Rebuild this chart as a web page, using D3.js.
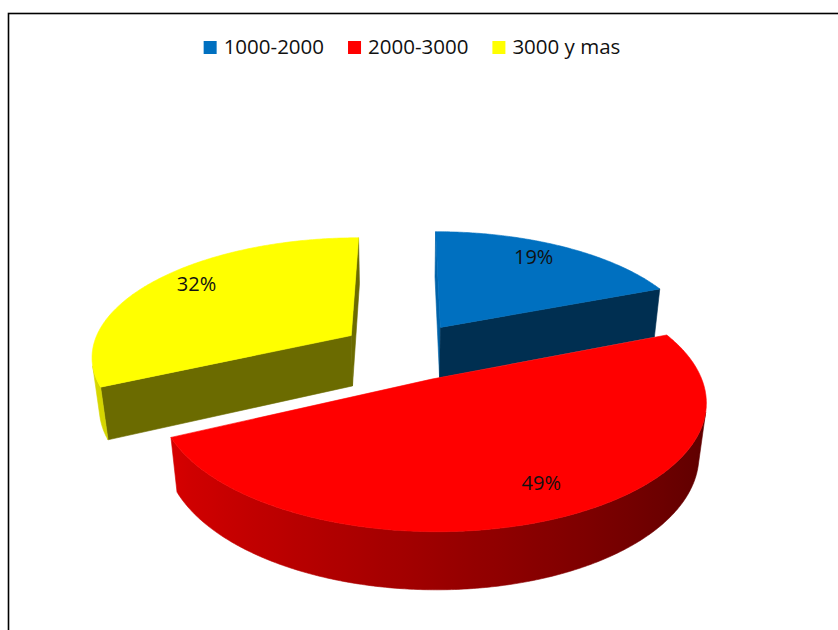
<!DOCTYPE html>
<html>
<head>
<meta charset="utf-8">
<script src="https://cdn.jsdelivr.net/npm/d3@7"></script>
<style>
  html, body { margin: 0; padding: 0; background: #fff; }
  svg { display: block; }
</style>
</head>
<body>
<svg id="chart" width="838" height="630"></svg>
<script>
// ---- data ----
const categories = ["1000-2000", "2000-3000", "3000 y mas"];
const values = [19, 49, 32];
const colors = ["#0070C0", "#FF0000", "#FFFF00"];

const W = 838, H = 630;
const svg = d3.select("#chart");
const defs = svg.append("defs");

// frame around the chart area
svg.append("rect")
  .attr("x", 8.5).attr("y", 13.5)
  .attr("width", W + 20).attr("height", H + 20)
  .attr("fill", "#fff").attr("stroke", "#000").attr("stroke-width", 1.6);

// ---- 3D pie view (unit radius disc, perspective camera) ----
const view = {
  cx: 405, cy: 351,        // screen position of the pie centre
  sx: 260, sy: 236,        // horizontal / vertical screen scale
  tilt: 30 * Math.PI / 180,
  dist: 5.4,               // camera distance in radii
  explode: 0.25,           // slice offset in radii
  depth: 0.256,            // disc thickness in radii
  labelRadius: 0.8,
  labelNudge: [[-6, -4], [8, -3], [3, -6]]   // small screen tweaks per label
};
const S = Math.sin(view.tilt), Cc = Math.cos(view.tilt);
const camera = [0, view.dist * S, -view.dist * Cc];

function project(x, y, z) {
  const d = 1 + (z * Cc - y * S) / view.dist;
  return [view.cx + view.sx * x / d, view.cy - view.sy * (z * S + y * Cc) / d];
}
function faces(nx, nz, p) {
  return nx * (camera[0] - p[0]) + nz * (camera[2] - p[2]) > 0;
}
function shade(c, k) {
  const r = d3.rgb(c);
  return d3.rgb(r.r * k, r.g * k, r.b * k).formatHex();
}
const line = d3.line();

const arcs = d3.pie().sort(null).value(d => d)(values);
const total = d3.sum(values);

const slices = arcs.map((a, i) => {
  const mid = (a.startAngle + a.endAngle) / 2;
  const ox = view.explode * Math.sin(mid), oz = view.explode * Math.cos(mid);
  return { i, a0: a.startAngle, a1: a.endAngle, mid, ox, oz, value: a.data, color: colors[i] };
});

// far slices first so nearer ones paint over them
const order = slices.slice().sort((p, q) =>
  (q.oz + 0.5 * Math.cos(q.mid)) - (p.oz + 0.5 * Math.cos(p.mid)));

const h = -view.depth;
const gPie = svg.append("g");

order.forEach(s => {
  const g = gPie.append("g");
  const rim = (t, y) => [s.ox + Math.sin(t), y, s.oz + Math.cos(t)];
  const v = [s.ox, 0, s.oz];
  const n = Math.max(8, Math.ceil((s.a1 - s.a0) / 0.01));
  const ts = d3.range(n + 1).map(k => s.a0 + (s.a1 - s.a0) * k / n);

  // radial walls
  [[s.a0, -Math.cos(s.a0), Math.sin(s.a0)], [s.a1, Math.cos(s.a1), -Math.sin(s.a1)]]
    .forEach(([t, nx, nz]) => {
      if (!faces(nx, nz, v)) return;
      const pts = [
        project(s.ox, 0, s.oz), project(...rim(t, 0)),
        project(...rim(t, h)), project(s.ox, h, s.oz)
      ];
      const col = shade(s.color, nz < 0 ? 0.42 : 0.88);
      g.append("path").attr("d", line(pts) + "Z")
        .attr("fill", col).attr("stroke", col).attr("stroke-width", 0.6);
    });

  // curved outer wall: visible runs only
  const vis = ts.map(t => faces(Math.sin(t), Math.cos(t), rim(t, 0)));
  let runs = [], cur = null;
  ts.forEach((t, k) => {
    if (vis[k]) { if (!cur) { cur = []; runs.push(cur); } cur.push(t); }
    else cur = null;
  });
  runs.filter(r => r.length > 1).forEach((r, ri) => {
    const top = r.map(t => project(...rim(t, 0)));
    const bot = r.map(t => project(...rim(t, h))).reverse();
    const xs = top.map(p => p[0]);
    const x0 = d3.min(xs), x1 = d3.max(xs);
    const id = `side-${s.i}-${ri}`;
    const grad = defs.append("linearGradient").attr("id", id)
      .attr("gradientUnits", "userSpaceOnUse")
      .attr("x1", x0).attr("x2", x1).attr("y1", 0).attr("y2", 0);
    const stops = r.map((t, k) => ({
      off: x1 > x0 ? (top[k][0] - x0) / (x1 - x0) : 0,
      col: shade(s.color, 0.61 - 0.25 * Math.sin(t))
    })).sort((p, q) => p.off - q.off);
    stops.filter((d, k) => k % 6 === 0 || k === stops.length - 1).forEach(d =>
      grad.append("stop").attr("offset", d.off).attr("stop-color", d.col));
    g.append("path").attr("d", line(top.concat(bot)) + "Z")
      .attr("fill", `url(#${id})`).attr("stroke", `url(#${id})`).attr("stroke-width", 0.6);
  });

  // top face
  const topPts = [project(...v)].concat(ts.map(t => project(...rim(t, 0))));
  g.append("path").attr("d", line(topPts) + "Z")
    .attr("fill", s.color).attr("stroke", s.color).attr("stroke-width", 0.6);
});

// percentage labels on the top faces
const fmt = d3.format(".0%");
gPie.append("g").selectAll("text").data(slices).join("text")
  .attr("transform", s => {
    const r = view.labelRadius;
    const p = project(s.ox + r * Math.sin(s.mid), 0, s.oz + r * Math.cos(s.mid));
    const nd = view.labelNudge[s.i];
    return `translate(${p[0] + nd[0]},${p[1] + nd[1]})`;
  })
  .attr("text-anchor", "middle").attr("dy", "0.36em")
  .style("font-family", "'Open Sans', sans-serif").style("font-size", "20px")
  .attr("fill", "#111")
  .text(s => fmt(s.value / total));

// ---- legend ----
const legend = svg.append("g");
const items = legend.selectAll("g").data(categories).join("g");
items.append("rect").attr("width", 13).attr("height", 13)
  .attr("fill", (d, i) => colors[i]);
items.append("text").attr("x", 20).attr("y", 13)
  .style("font-family", "'Open Sans', sans-serif").style("font-size", "20.5px")
  .attr("fill", "#111").text(d => d);
let xPos = 0;
items.each(function () {
  const w = d3.select(this).select("text").node().getComputedTextLength();
  d3.select(this).attr("data-x", xPos);
  xPos += 20 + w + 24;
});
const legendW = xPos - 24;
items.attr("transform", function () {
  return `translate(${+this.getAttribute("data-x")},0)`;
});
legend.attr("transform", `translate(${412 - legendW / 2},41)`);
</script>
</body>
</html>
